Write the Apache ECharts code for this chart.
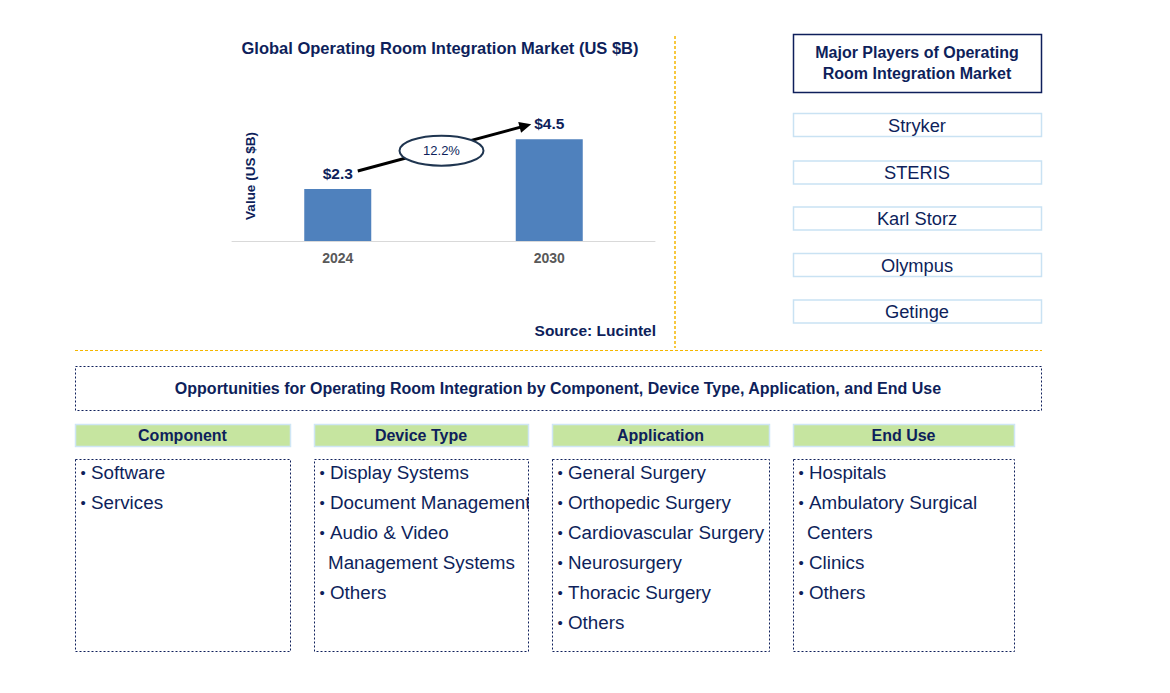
<!DOCTYPE html>
<html>
<head>
<meta charset="utf-8">
<script src="https://cdn.jsdelivr.net/npm/echarts@6/dist/echarts.min.js"></script>
<style>
html,body{margin:0;padding:0;background:#fff;}
#c{width:1170px;height:693px;}
</style>
</head>
<body>
<div id="c"></div>
<script>
// ---- data ----
const chartTitle = 'Global Operating Room Integration Market (US $B)';
const years = ['2024', '2030'];
const values = [2.3, 4.5];
const cagr = '12.2%';
const yAxisName = 'Value (US $B)';
const sourceText = 'Source: Lucintel';
const playersTitle = ['Major Players of Operating', 'Room Integration Market'];
const players = ['Stryker', 'STERIS', 'Karl Storz', 'Olympus', 'Getinge'];
const oppTitle = 'Opportunities for Operating Room Integration by Component, Device Type, Application, and End Use';
const segTitles = ['Component', 'Device Type', 'Application', 'End Use'];
const segComponent = [['Software'], ['Services']];
const segDevice = [['Display Systems'], ['Document Management'], ['Audio & Video', 'Management Systems'], ['Others']];
const segApplication = [['General Surgery'], ['Orthopedic Surgery'], ['Cardiovascular Surgery'], ['Neurosurgery'], ['Thoracic Surgery'], ['Others']];
const segEndUse = [['Hospitals'], ['Ambulatory Surgical', 'Centers'], ['Clinics'], ['Others']];
const segItems = [segComponent, segDevice, segApplication, segEndUse];

// ---- styles ----
const NAVY = '#0e1f5b';
const FONT = '"Liberation Sans", Arial, sans-serif';
const GOLD = '#f5b700';

const chart = echarts.init(document.getElementById('c'), null, {renderer: 'svg', width: 1170, height: 693});

const option = {
  animation: false,
  backgroundColor: '#fff',
  title: {
    text: chartTitle, left: 435, top: 34, textAlign: 'center',
    textStyle: {fontFamily: FONT, fontSize: 16.5, fontWeight: 'bold', color: NAVY}
  },
  grid: {left: 232, width: 423, top: 128, height: 113},
  xAxis: {
    type: 'category', data: years,
    axisLine: {lineStyle: {color: '#d9d9d9', width: 1}},
    axisTick: {show: false},
    axisLabel: {fontFamily: FONT, fontSize: 14, fontWeight: 'bold', color: '#595959', margin: 10}
  },
  yAxis: {
    type: 'value', min: 0, max: 5, show: false
  },
  series: [{
    type: 'bar', data: values, barWidth: 67,
    itemStyle: {color: '#4f81bd'},
    label: {
      show: true, position: 'top', distance: 8,
      formatter: p => '$' + p.value,
      fontFamily: FONT, fontSize: 15.5, fontWeight: 'bold', color: NAVY
    }
  }],
  graphic: []
};
chart.setOption(option);

// ---- annotations built from the chart's scales ----
const g = [];
const p0 = chart.convertToPixel({seriesIndex: 0}, [0, values[0]]);
const p1 = chart.convertToPixel({seriesIndex: 0}, [1, values[1]]);
const ax0 = p0[0] + 20, ay0 = p0[1] - 18;
const ax1 = p1[0] - 18, ay1 = p1[1] - 15;
g.push({type: 'line', shape: {x1: ax0, y1: ay0, x2: ax1 - 6, y2: ay1 + 1.6}, style: {stroke: '#000', lineWidth: 3}, z: 5});
// arrow head
const ang = Math.atan2(ay1 - ay0, ax1 - ax0);
const hl = 12, hw = 5.5;
const bx = ax1 - hl * Math.cos(ang), by = ay1 - hl * Math.sin(ang);
g.push({type: 'polygon', shape: {points: [[ax1, ay1], [bx + hw * Math.sin(ang), by - hw * Math.cos(ang)], [bx - hw * Math.sin(ang), by + hw * Math.cos(ang)]]}, style: {fill: '#000'}, z: 5});
// ellipse with CAGR
const ex = (ax0 + ax1) / 2 - 3, ey = (ay0 + ay1) / 2 + 3;
g.push({type: 'ellipse', shape: {cx: ex, cy: ey, rx: 42, ry: 15}, style: {fill: '#fff', stroke: '#1f3550', lineWidth: 2}, z: 6});
g.push({type: 'text', x: ex, y: ey, style: {text: cagr, fontFamily: FONT, fontSize: 13, fill: NAVY, align: 'center', verticalAlign: 'middle'}, z: 7});
// y axis name
g.push({type: 'text', x: 250, y: 176, rotation: Math.PI / 2, style: {text: yAxisName, fontFamily: FONT, fontSize: 13.5, fontWeight: 'bold', fill: NAVY, align: 'center', verticalAlign: 'middle'}});
// source
g.push({type: 'text', x: 656, y: 330, style: {text: sourceText, fontFamily: FONT, fontSize: 15.5, fontWeight: 'bold', fill: NAVY, align: 'right', verticalAlign: 'middle'}});
// separators
g.push({type: 'line', shape: {x1: 675, y1: 36, x2: 675, y2: 348}, style: {stroke: GOLD, lineWidth: 1.5, lineDash: [3, 2]}});
g.push({type: 'line', shape: {x1: 75, y1: 350.5, x2: 1042, y2: 350.5}, style: {stroke: GOLD, lineWidth: 1.2, lineDash: [3, 2]}});

// players panel
g.push({type: 'rect', shape: {x: 793.5, y: 34.5, width: 248, height: 58}, style: {fill: '#fff', stroke: NAVY, lineWidth: 1.5}});
g.push({type: 'text', x: 917, y: 62.5, style: {text: playersTitle.join('\n'), fontFamily: FONT, fontSize: 16, fontWeight: 'bold', fill: NAVY, align: 'center', verticalAlign: 'middle', lineHeight: 21}});
const playerY = [125, 172.5, 218.5, 265, 311.5];
players.forEach((name, i) => {
  g.push({type: 'rect', shape: {x: 793.5, y: playerY[i] - 11.5, width: 248, height: 23}, style: {fill: '#fff', stroke: '#c9e2f3', lineWidth: 1.5}});
  g.push({type: 'text', x: 917, y: playerY[i], style: {text: name, fontFamily: FONT, fontSize: 18.3, fill: NAVY, align: 'center', verticalAlign: 'middle'}});
});

// opportunities
g.push({type: 'rect', shape: {x: 75.5, y: 366.5, width: 966, height: 44}, style: {fill: 'none', stroke: NAVY, lineWidth: 1, lineDash: [2, 2]}});
g.push({type: 'text', x: 558, y: 388, style: {text: oppTitle, fontFamily: FONT, fontSize: 16, fontWeight: 'bold', fill: NAVY, align: 'center', verticalAlign: 'middle'}});

const cols = [[75, 290], [314, 528], [552, 769], [793, 1014]];
cols.forEach(([x0, x1], i) => {
  g.push({type: 'rect', shape: {x: x0 + 0.5, y: 424.5, width: x1 - x0, height: 22}, style: {fill: '#c6e5a0', stroke: '#cfe6f5', lineWidth: 1.5}});
  g.push({type: 'text', x: (x0 + x1) / 2, y: 435.5, style: {text: segTitles[i], fontFamily: FONT, fontSize: 16, fontWeight: 'bold', fill: NAVY, align: 'center', verticalAlign: 'middle'}});
  g.push({type: 'rect', shape: {x: x0 + 0.5, y: 459.5, width: x1 - x0, height: 192}, style: {fill: 'none', stroke: NAVY, lineWidth: 1, lineDash: [2, 2]}, z: 10});
  // mask so text cannot spill past the box border
  g.push({type: 'rect', shape: {x: x1 + 1, y: 461, width: 22, height: 190}, style: {fill: '#fff'}, z: 9});
  let line = 0;
  segItems[i].forEach(item => {
    item.forEach((txt, k) => {
      const y = 472 + line * 30;
      if (k === 0) {
        g.push({type: 'text', x: x0 + 8, y: y, style: {text: '•', fontFamily: FONT, fontSize: 15, fill: NAVY, align: 'center', verticalAlign: 'middle'}});
      }
      g.push({type: 'text', x: x0 + (k === 0 ? 16 : 14), y: y, style: {text: txt, fontFamily: FONT, fontSize: 18.8, fill: NAVY, align: 'left', verticalAlign: 'middle'}});
      line++;
    });
  });
});

chart.setOption({graphic: g});
</script>
</body>
</html>
